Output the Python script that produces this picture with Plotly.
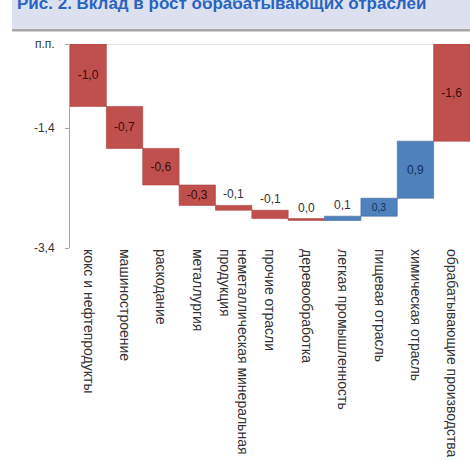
import plotly.graph_objects as go

categories = [
    "кокс и нефтепродукты",
    "машиностроение",
    "раскодание",
    "металлургия",
    "неметаллическая минеральная<br>продукция",
    "прочие отрасли",
    "деревообработка",
    "легкая промышленность",
    "пищевая отрасль",
    "химическая отрасль",
    "обрабатывающие производства",
]
deltas = [-1.04, -0.70, -0.61, -0.34, -0.08, -0.14, -0.03, 0.07, 0.30, 0.95]
measures = ["relative"] * len(deltas) + ["total"]
values = deltas + [0]
inside_flags = [True, True, True, True, False, False, False, False, True, True, True]

total = sum(deltas)
shown = deltas + [total]
labels = [f"{v:.1f}".replace(".", ",").replace("-0,0", "0,0") for v in shown]

y_tickvals = [0, -1.4, -3.4]
y_ticktext = ["п.п.", "-1,4", "-3,4"]

RED = "#c0504d"
BLUE = "#4f81bd"
FONT = "Liberation Sans, Arial, sans-serif"

text_colors = []
for v, m in zip(shown, measures):
    if m == "total" or v < 0:
        text_colors.append("#3a0d0c")
    else:
        text_colors.append("#14305a")

fig = go.Figure()
fig.add_trace(go.Waterfall(
    x=categories,
    y=values,
    measure=measures,
    text=[l if f else "" for l, f in zip(labels, inside_flags)],
    textposition="inside",
    insidetextanchor="middle",
    textangle=0,
    insidetextfont=dict(family=FONT, size=12, color=text_colors),
    decreasing=dict(marker=dict(color=RED, line=dict(color="#a8423f", width=0.6))),
    increasing=dict(marker=dict(color=BLUE, line=dict(color="#41699a", width=0.6))),
    totals=dict(marker=dict(color=RED, line=dict(color="#a8423f", width=0.6))),
    connector=dict(visible=False),
    showlegend=False,
    cliponaxis=False,
))

# outside labels for the small bars (placed at the top of each bar)
cum = 0.0
for cat, d, lab, f in zip(categories, deltas, labels, inside_flags):
    start, end = cum, cum + d
    cum = end
    if not f:
        fig.add_annotation(
            x=cat, y=max(start, end), xref="x", yref="y",
            text=lab, showarrow=False, yanchor="bottom", yshift=2,
            font=dict(family=FONT, size=12, color="#333333"),
        )

# header band
fig.add_shape(type="rect", xref="paper", yref="paper",
              x0=-0.145, x1=1.01, y0=1.075, y1=1.25,
              fillcolor="#dde1ef", line=dict(width=0), layer="below")
fig.add_shape(type="line", xref="paper", yref="paper",
              x0=-0.145, x1=1.01, y0=1.068, y1=1.068,
              line=dict(color="#a6a6a6", width=2.5))
fig.add_annotation(xref="paper", yref="paper", x=-0.1375, y=1.2,
                   xanchor="left", yanchor="middle", showarrow=False,
                   text="<b>Рис. 2. Вклад в рост обрабатывающих отраслей</b>",
                   font=dict(family=FONT, size=17, color="#2a64c0"))

# zero line at the top
fig.add_shape(type="line", xref="paper", yref="y", x0=0, x1=1, y0=0, y1=0,
              line=dict(color="#c8c8c8", width=1), layer="below")

fig.update_layout(
    width=470, height=461,
    margin=dict(l=70, r=0, t=44, b=213),
    paper_bgcolor="white", plot_bgcolor="white",
    waterfallgap=0.0,
    font=dict(family=FONT, size=11, color="#333333"),
    xaxis=dict(
        tickangle=90, showgrid=False, showline=False, ticks="",
        tickfont=dict(family=FONT, size=14, color="#333333"),
        automargin=False,
    ),
    yaxis=dict(
        range=[-3.4, 0], tickvals=y_tickvals, ticktext=y_ticktext,
        showgrid=False, zeroline=False, showline=True, linecolor="#a6a6a6",
        ticks="outside", ticklen=4, tickcolor="#a6a6a6",
        ticklabelstandoff=8,
        tickfont=dict(family=FONT, size=12, color="#333333"),
        automargin=False,
    ),
)

fig.write_html(
    "out.html",
    config={"displayModeBar": False, "staticPlot": True},
    post_script="document.body.style.margin='0';document.body.style.overflow='hidden';",
)
